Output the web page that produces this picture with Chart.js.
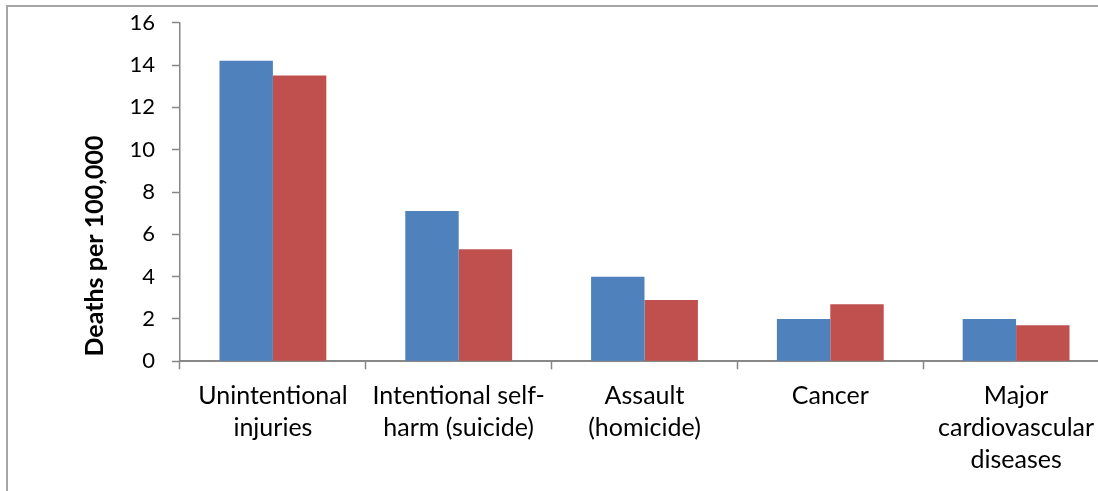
<!DOCTYPE html>
<html>
<head>
<meta charset="utf-8">
<script src="https://cdn.jsdelivr.net/npm/chart.js@4"></script>
<style>
  html, body { margin: 0; padding: 0; background: #fff; overflow: hidden; }
  #wrap { position: absolute; left: 0; top: 0; width: 1109px; height: 491px; }
</style>
</head>
<body>
<div id="wrap"><canvas id="chart"></canvas></div>
<script>
// Causes of death, rate per 100,000
const categories = [
  ["Unintentional", "injuries"],
  ["Intentional self-", "harm (suicide)"],
  ["Assault", "(homicide)"],
  ["Cancer"],
  ["Major", "cardiovascular", "diseases"]
];
const series1 = [14.2, 7.1, 4.0, 2.0, 2.0];
const series2 = [13.5, 5.3, 2.9, 2.7, 1.7];
const yTicks = [0, 2, 4, 6, 8, 10, 12, 14, 16];
const yTitle = "Deaths per 100,000";

const FONT = "Lato, 'Open Sans', sans-serif";
const AXIS_GRAY = "#878787";

// outer frame and rotated value-axis title
const decorations = {
  id: "decorations",
  beforeDraw(chart) {
    const ctx = chart.ctx;
    ctx.save();
    ctx.strokeStyle = "#a6a6a6";
    ctx.lineWidth = 2;
    ctx.beginPath();
    ctx.moveTo(7, chart.height + 5);
    ctx.lineTo(7, 6);
    ctx.lineTo(chart.width + 5, 6);
    ctx.stroke();
    ctx.restore();
  },
  afterDraw(chart) {
    const ctx = chart.ctx;
    ctx.save();
    ctx.translate(95, 246);
    ctx.rotate(-Math.PI / 2);
    ctx.fillStyle = "#000";
    ctx.font = "bold 25px " + FONT;
    ctx.textAlign = "center";
    ctx.textBaseline = "middle";
    ctx.fillText(yTitle, 0, 0);
    ctx.restore();
  }
};

new Chart(document.getElementById("chart"), {
  type: "bar",
  data: {
    labels: categories,
    datasets: [
      { label: "Series1", data: series1, backgroundColor: "#4F81BD", borderWidth: 0 },
      { label: "Series2", data: series2, backgroundColor: "#C0504D", borderWidth: 0 }
    ]
  },
  options: {
    responsive: true,
    maintainAspectRatio: false,
    animation: false,
    devicePixelRatio: 1,
    layout: { padding: { left: 0, right: 0, top: 22.7, bottom: 0 } },
    plugins: {
      legend: { display: false },
      tooltip: { enabled: false },
      title: { display: false }
    },
    datasets: { bar: { categoryPercentage: 0.575, barPercentage: 1 } },
    scales: {
      x: {
        offset: true,
        grid: {
          offset: true,
          drawOnChartArea: false,
          drawTicks: true,
          tickLength: 8,
          tickWidth: 1.5,
          tickColor: AXIS_GRAY
        },
        border: { display: true, color: AXIS_GRAY, width: 2 },
        ticks: {
          color: "#000",
          padding: 11,
          maxRotation: 0,
          autoSkip: false,
          font: { family: FONT, size: 25, lineHeight: 1.28 }
        },
        afterFit(scale) {
          scale.height = 491 - 361.3;
          scale.paddingLeft = 0;
          scale.paddingRight = 0;
        }
      },
      y: {
        min: 0,
        max: 16,
        afterBuildTicks(scale) { scale.ticks = yTicks.map(v => ({ value: v })); },
        grid: {
          drawOnChartArea: false,
          drawTicks: true,
          tickLength: 8,
          tickWidth: 1.5,
          tickColor: AXIS_GRAY
        },
        border: { display: true, color: AXIS_GRAY, width: 1.5 },
        ticks: {
          color: "#000",
          padding: 17,
          font: { family: FONT, size: 22 }
        },
        afterFit(scale) {
          scale.width = 180;
          scale.paddingTop = 0;
          scale.paddingBottom = 0;
        }
      }
    }
  },
  plugins: [decorations]
});
</script>
</body>
</html>
